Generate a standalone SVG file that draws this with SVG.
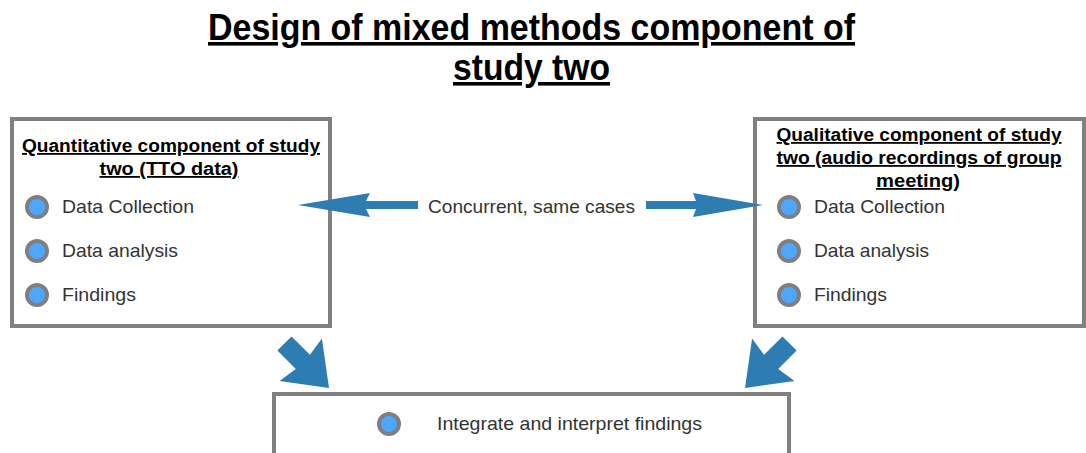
<svg xmlns="http://www.w3.org/2000/svg" width="1086" height="453" viewBox="0 0 1086 453">
<style>
.box{fill:#fff;stroke:#808080;stroke-width:4}
.bul{fill:#4da6ff;stroke:#7f7f7f;stroke-width:4}
.hd{font-family:"Liberation Sans",Arial,sans-serif;font-weight:bold;font-size:18px;fill:#000;text-decoration:underline;text-anchor:middle}
.tx{font-family:"Liberation Sans",Arial,sans-serif;font-size:18.5px;fill:#333}
.ttl{font-family:"Liberation Sans",Arial,sans-serif;font-weight:bold;font-size:36px;fill:#000;text-decoration:underline}
.arr{fill:#2d7db3}
</style>
<rect width="1086" height="453" fill="#fff"/>
<g id="title">
<text class="ttl" x="208" y="40" textLength="647" lengthAdjust="spacingAndGlyphs">Design of mixed methods component of</text>
<text class="ttl" x="453" y="80" textLength="157" lengthAdjust="spacingAndGlyphs">study two</text>
</g>
<g id="quant">
<rect class="box" x="12" y="119" width="318" height="207"/>
<text class="hd" x="171" y="152" textLength="298" lengthAdjust="spacingAndGlyphs">Quantitative component of study</text>
<text class="hd" x="169" y="175" textLength="139" lengthAdjust="spacingAndGlyphs">two (TTO data)</text>
<circle class="bul" cx="37" cy="207" r="10"/>
<text class="tx" x="62" y="213" textLength="132" lengthAdjust="spacingAndGlyphs">Data Collection</text>
<circle class="bul" cx="37" cy="251" r="10"/>
<text class="tx" x="62" y="257" textLength="116" lengthAdjust="spacingAndGlyphs">Data analysis</text>
<circle class="bul" cx="37" cy="295" r="10"/>
<text class="tx" x="62" y="301" textLength="74" lengthAdjust="spacingAndGlyphs">Findings</text>
</g>
<g id="qual">
<rect class="box" x="755" y="119" width="329" height="207"/>
<text class="hd" x="919" y="141" textLength="285" lengthAdjust="spacingAndGlyphs">Qualitative component of study</text>
<text class="hd" x="919" y="164" textLength="285" lengthAdjust="spacingAndGlyphs">two (audio recordings of group</text>
<text class="hd" x="918" y="187" textLength="84" lengthAdjust="spacingAndGlyphs">meeting)</text>
<circle class="bul" cx="789" cy="207" r="10"/>
<text class="tx" x="814" y="213" textLength="131" lengthAdjust="spacingAndGlyphs">Data Collection</text>
<circle class="bul" cx="789" cy="251" r="10"/>
<text class="tx" x="814" y="257" textLength="115" lengthAdjust="spacingAndGlyphs">Data analysis</text>
<circle class="bul" cx="789" cy="295" r="10"/>
<text class="tx" x="814" y="301" textLength="73" lengthAdjust="spacingAndGlyphs">Findings</text>
</g>
<g id="integrate">
<rect class="box" x="274" y="394" width="515" height="64"/>
<circle class="bul" cx="389" cy="424" r="10"/>
<text class="tx" x="437" y="430" textLength="265" lengthAdjust="spacingAndGlyphs">Integrate and interpret findings</text>
</g>
<g id="connectors">
<polygon class="arr" points="298,205 370,193 366,201 418,201 418,209 366,209 370,217"/>
<text class="tx" x="428" y="213" textLength="207" lengthAdjust="spacingAndGlyphs">Concurrent, same cases</text>
<polygon class="arr" points="763,205 693,193 696,201 646,201 646,209 696,209 693,217"/>
<polygon class="arr" transform="translate(329,388) rotate(45)" points="0,0 -40,-30 -37,-10 -63,-10 -63,10 -37,10 -40,30"/>
<polygon class="arr" transform="translate(745,388) rotate(135)" points="0,0 -40,-30 -37,-10 -63,-10 -63,10 -37,10 -40,30"/>
</g>
</svg>
